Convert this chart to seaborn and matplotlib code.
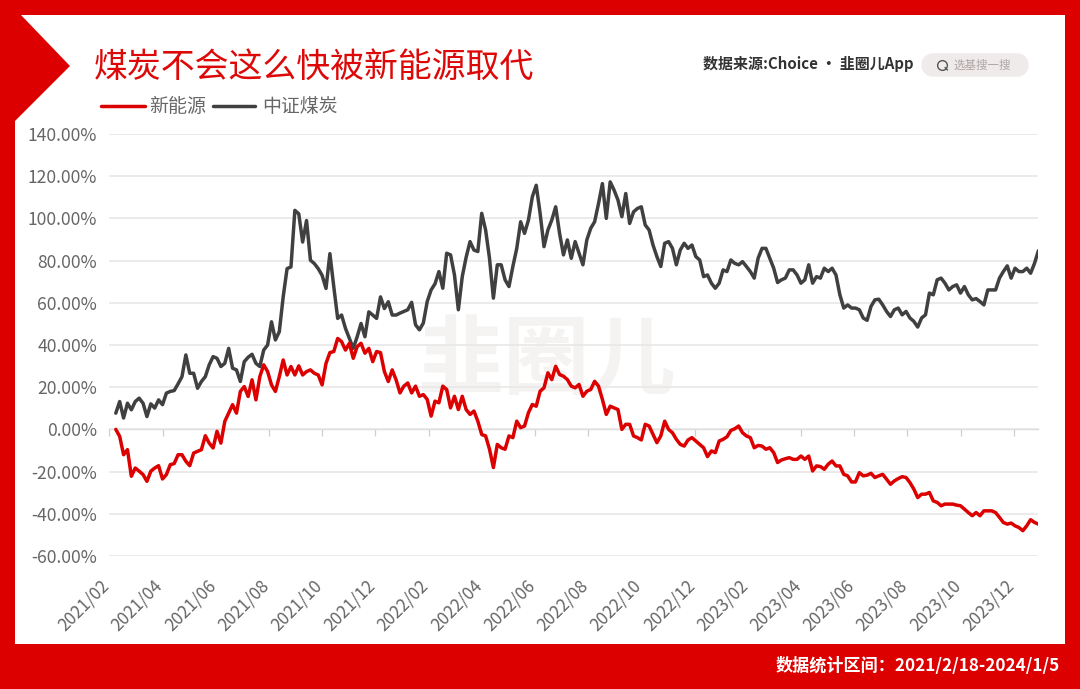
import numpy as np
import pandas as pd
import matplotlib
matplotlib.use("Agg")
import matplotlib.pyplot as plt
from matplotlib.patches import Rectangle, Polygon
from matplotlib.lines import Line2D
from matplotlib.transforms import ScaledTranslation
import seaborn as sns

tick_labels = ["2021/02", "2021/04", "2021/06", "2021/08", "2021/10", "2021/12",
               "2022/02", "2022/04", "2022/06", "2022/08", "2022/10", "2022/12",
               "2023/02", "2023/04", "2023/06", "2023/08", "2023/10", "2023/12"]

new_energy = [
 0,-3.3,-12,-9.6,-22.2,-18.3,-19.8,-21.4,-24.6,-19.8,-18.3,-17.2,-23.5,-21.4,-16.7,-16.2,-12,-12,-15.1,-17.2,
 -11.2,-10.4,-9.6,-3,-6.5,-8.8,-0.9,-6.5,3.8,7.7,11.7,7.7,18,20.3,15.6,23.5,14,25,30.6,27.4,
 21.1,18,25,32.9,25.8,29.8,25.8,30.1,25.8,27.4,28.2,26.6,25.8,21.1,31.3,36.4,36.9,43.1,41.6,37.6,
 40.8,33.7,39.2,40.8,36.1,38.4,32.1,36.9,36.4,27.4,22.7,28.2,23.5,17.3,20.5,22,17.3,20.5,15.7,16.5,
 14.2,6.3,13.4,12.6,20.5,18.9,10.2,15.7,9.4,15.7,9.4,7.1,8.7,3.9,-2.4,-3.1,-9.4,-18.1,-7.1,-8.7,
 -9.4,-3.1,-3.9,3.9,0.8,1.6,7.9,11.8,11,18.1,19.7,26.8,23.6,29.9,26,25.2,23.6,20.5,19.7,21.3,
 15.7,18.1,18.9,22.8,20.5,14.2,7.1,11,10.2,9.4,0,2.4,2.4,-3.1,-3.9,-5,2.4,1.6,-2.4,-6.3,
 -3.1,3.9,0,-1.6,-4.7,-7.1,-7.9,-5,-3.9,-5.5,-7.1,-8.7,-12.9,-10.2,-11,-5.5,-4.7,-3.5,-0.5,0.3,
 1.6,-1.6,-3.1,-3.9,-8.7,-7.6,-7.9,-9.4,-8.7,-11,-15.7,-14.5,-13.9,-13.4,-14.2,-14.2,-12.6,-14.2,-12.6,-19.7,
 -17.3,-17.6,-18.9,-16.5,-15,-17.3,-17.3,-21.3,-22,-24.9,-24.9,-20.5,-22,-21.7,-20.8,-22.8,-22,-21.3,-23.6,-26,
 -24.4,-23.3,-22.4,-22.8,-25.2,-28.3,-32.3,-30.7,-30.7,-29.9,-33.9,-34.6,-36.2,-35.4,-35.4,-35.4,-35.9,-36.2,-37.8,-39.4,
 -40.9,-39.4,-40.9,-38.6,-38.6,-38.6,-39.4,-41.7,-44.1,-44.9,-44.4,-45.7,-46.5,-48,-45.7,-42.8,-44.1,-44.9]

coal_index = [
 7.7,13.2,5.4,12.4,9.3,13.2,14.8,12.4,6.1,12.1,10.1,14,11.7,17.2,18,18.4,21.6,25,35.3,26.6,
 26.6,19.5,22.7,25,30.6,34.5,33.7,29.8,31.3,38.4,29,28.2,22.7,32.1,34.2,35.6,31.3,29.8,37.6,40,
 51,42.4,46.3,62.8,76.2,77,103.8,102.2,88.8,99,80.2,78.6,76.2,73,66.8,83.3,67.6,52.6,54.2,47.9,
 43.1,38.4,43.9,50.2,43.9,55.7,54.2,52.6,62.8,57.3,60.5,54.2,54.2,55.1,55.9,56.7,60.2,49.6,47.2,50.4,
 60.6,66.1,69,74.8,66.9,83.5,82.7,73.2,56.7,72.4,81.6,89,85,84.3,102.4,94.5,81.1,62.2,78,78,
 70.9,67.7,77.2,85.8,98.4,92.9,99.2,110.2,115.7,102.4,86.6,94.5,99.2,105.5,92.9,82.7,89.8,81.1,89,83.5,
 78,89.8,95.3,98.4,107,116.5,100,117.3,113.4,108.7,100.8,111.8,97.6,103.1,104.7,105.5,96.9,94.5,87.4,81.9,
 77.2,88.2,89,85.8,78,85,88.2,85.8,87.4,81.9,80.3,72.4,73.2,69.3,66.9,69.3,75.6,74.8,80.3,78.7,
 78,79.5,77.2,74.8,71.7,81.1,85.8,85.8,81.1,76.4,69.6,70.9,71.7,75.6,75.6,73.2,69.3,70.9,78,69.3,
 72.4,71.7,76.4,74.8,76.4,73.2,63.8,57.5,59,57.5,57.5,56.7,52.8,51.7,58.3,61.4,61.7,59,55.9,53.5,
 56.7,57.5,54.3,55.9,52.8,51.2,48.5,52.8,54.3,64.6,63.8,70.9,71.7,69.3,66.1,67.7,68.5,64.6,67.7,63.8,
 61.4,62,60.6,59,66.1,66.1,66.1,71.7,74.8,77.5,71.7,76.4,74.8,74.8,76.4,74,78.7,84.7]

title = "煤炭不会这么快被新能源取代"
series_names = ["新能源", "中证煤炭"]
source = "数据来源:Choice · 韭圈儿App"
footer = "数据统计区间\uff1a2021/2/18-2024/1/5"

W, H = 1080, 689
RED = "#DC0000"
DARK = "#404040"
GREY = "#666666"

sns.set_theme(style="white")
plt.rcParams["font.family"] = ["Noto Sans CJK SC", "DejaVu Sans"]

days = 5 + 3 * np.arange(len(new_energy))
df = pd.DataFrame({"day": np.r_[days, days],
                   "value": np.r_[coal_index, new_energy],
                   "series": [series_names[1]] * len(days) + [series_names[0]] * len(days)})

fig = plt.figure(figsize=(W / 100, H / 100), dpi=100, facecolor=RED)

def fx(p): return p / W
def fy(p): return 1 - p / H

fig.add_artist(Rectangle((fx(15), fy(644)), fx(1050), (644 - 15) / H, transform=fig.transFigure,
                         fc="white", ec="none", zorder=-3))
fig.add_artist(Polygon([(fx(14), fy(14)), (fx(21), fy(15)), (fx(70), fy(66)), (fx(15), fy(121)), (fx(14), fy(121))],
                       transform=fig.transFigure, fc=RED, ec="none", zorder=-2))
fig.text(fx(546), fy(362), "韭圈儿", color="#F5F3F1", fontsize=62, fontweight="bold",
         ha="center", va="center", zorder=-1)

ax = fig.add_axes([fx(109.3), fy(556), fx(1038.4 - 109.3), (556 - 134) / H])
ax.patch.set_alpha(0)
sns.lineplot(data=df, x="day", y="value", hue="series", estimator=None, sort=False,
             palette={series_names[0]: RED, series_names[1]: DARK}, linewidth=2.5,
             legend=False, ax=ax)
ax.lines[0].set_zorder(3)
ax.lines[1].set_zorder(4)
ax.set_xlim(0, 716)
ax.set_ylim(-60, 140)
ax.set_xlabel("")
ax.set_ylabel("")
ax.set_yticks(np.arange(-60, 141, 20))
ax.set_yticklabels([f"{v:.2f}%" for v in np.arange(-60, 141, 20)], color=GREY, fontsize=12.6)
ax.set_xticks(41 * np.arange(len(tick_labels)))
ax.set_xticklabels(tick_labels, rotation=45, ha="right", rotation_mode="anchor", color=GREY, fontsize=12.3)
ax.tick_params(axis="y", length=0, pad=8.8)
ax.tick_params(axis="x", length=0, pad=14.5)
shift = ScaledTranslation(-9 / 100, 0, fig.dpi_scale_trans)
for lab in ax.get_xticklabels():
    lab.set_transform(lab.get_transform() + shift)
ax.grid(axis="y", color="#E6E6E6", linewidth=1.1)
ax.set_axisbelow(True)
for s in ax.spines.values():
    s.set_visible(False)

zero = ax.secondary_xaxis(0.3)
zero.set_xticks(41 * np.arange(len(tick_labels)))
zero.set_xticklabels([])
zero.tick_params(axis="x", length=5, width=0.9, color="#CFCFCF", direction="out")
zero.spines["bottom"].set_color("#CFCFCF")
zero.spines["bottom"].set_linewidth(1.0)
for k in ("top", "left", "right"):
    zero.spines[k].set_visible(False)

fig.text(fx(94), fy(67.5), title, color="#DD0808", fontsize=24.4, ha="left", va="center")

fig.add_artist(Line2D([fx(101), fx(145)], [fy(106), fy(106)], color=RED, lw=2.5))
fig.text(fx(149), fy(106.5), series_names[0], color=GREY, fontsize=13.7, ha="left", va="center")
fig.add_artist(Line2D([fx(213), fx(255)], [fy(106), fy(106)], color=DARK, lw=2.5))
fig.text(fx(262), fy(106.5), series_names[1], color=GREY, fontsize=13.6, ha="left", va="center")

fig.text(fx(703), fy(64), source, color="#333333", fontsize=10.8, fontweight="bold",
         ha="left", va="center")
fig.add_artist(Line2D([fx(933), fx(1017)], [fy(65), fy(65)], color="#EFEBEB", lw=17,
                      solid_capstyle="round", zorder=1))
fig.add_artist(Line2D([fx(942)], [fy(64.5)], marker="o", ms=7, mfc="none", mec="#555555", mew=1, zorder=2))
fig.add_artist(Line2D([fx(945), fx(947.5)], [fy(67.5), fy(70)], color="#555555", lw=1, zorder=2))
fig.text(fx(954), fy(65), "选基搜一搜", color="#AFA4A4", fontsize=8.3, ha="left", va="center")

fig.text(fx(1060), fy(666), footer, color="white", fontsize=12.3, fontweight="bold",
         ha="right", va="center")

fig.savefig("out.png", dpi=100, facecolor=RED)
